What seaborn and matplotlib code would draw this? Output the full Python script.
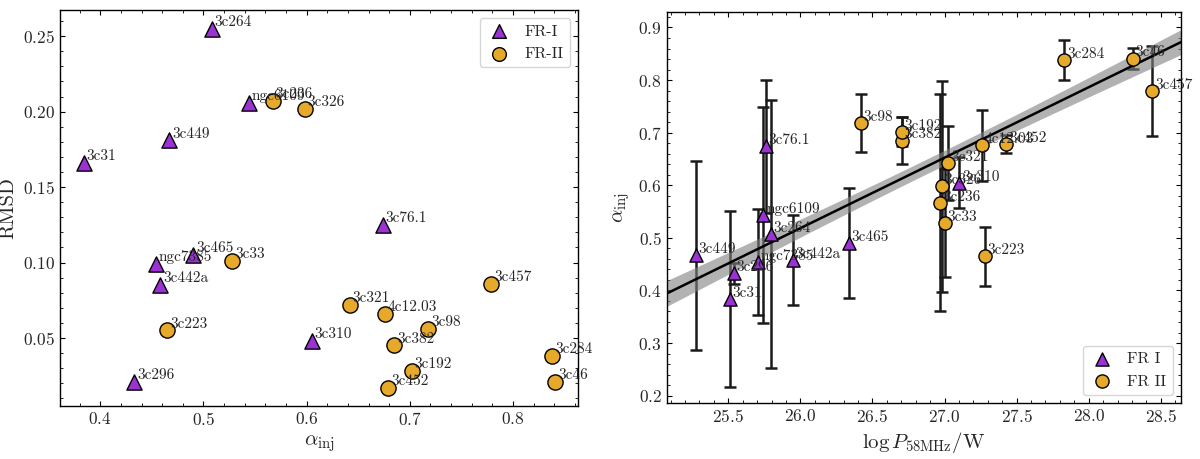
import numpy as np
import pandas as pd
import matplotlib
matplotlib.use("Agg")
import matplotlib.pyplot as plt
from matplotlib.ticker import AutoMinorLocator, MultipleLocator
import seaborn as sns

# dados
fr1_names = ["3c264", "ngc6109", "3c449", "3c31", "3c76.1", "3c465",
             "ngc7385", "3c442a", "3c296", "3c310"]
fr1_alpha = [0.508, 0.544, 0.467, 0.384, 0.674, 0.490, 0.454, 0.458, 0.433, 0.605]
fr1_rmsd = [0.255, 0.206, 0.181, 0.166, 0.125, 0.105, 0.099, 0.085, 0.021, 0.048]
fr1_logp = [25.796, 25.743, 25.274, 25.512, 25.759, 26.337, 25.704, 25.949, 25.540, 27.102]
fr1_err = [0.255, 0.205, 0.180, 0.167, 0.127, 0.105, 0.100, 0.085, 0.020, 0.048]

fr2_names = ["3c236", "3c326", "3c33", "3c223", "3c457", "3c321", "4c12.03",
             "3c98", "3c382", "3c192", "3c452", "3c284", "3c46"]
fr2_alpha = [0.567, 0.598, 0.528, 0.465, 0.779, 0.642, 0.676, 0.718, 0.685,
             0.702, 0.679, 0.838, 0.841]
fr2_rmsd = [0.207, 0.202, 0.101, 0.055, 0.086, 0.072, 0.066, 0.056, 0.045,
            0.028, 0.017, 0.038, 0.021]
fr2_logp = [26.970, 26.980, 27.003, 27.278, 28.440, 27.026, 27.257, 26.418,
            26.702, 26.702, 27.428, 27.830, 28.304]
fr2_err = [0.207, 0.200, 0.102, 0.056, 0.086, 0.070, 0.067, 0.055, 0.045,
           0.028, 0.017, 0.0375, 0.020]

# ajuste linear (pivot, valor no pivot, inclinacao, incertezas)
fit_x0 = 26.9
fit_y0 = 0.639
fit_slope = 0.134
fit_sig0 = 0.014
fit_sig_slope = 0.0110

purple = "#9b33d4"
orange = "#e6a92a"

df1 = pd.DataFrame({"name": fr1_names, "alpha": fr1_alpha, "rmsd": fr1_rmsd,
                    "logp": fr1_logp, "err": fr1_err})
df2 = pd.DataFrame({"name": fr2_names, "alpha": fr2_alpha, "rmsd": fr2_rmsd,
                    "logp": fr2_logp, "err": fr2_err})

sns.set_style("ticks")
plt.rcParams["font.family"] = "serif"
plt.rcParams["font.serif"] = ["cmr10"]
plt.rcParams["mathtext.fontset"] = "cm"
plt.rcParams["axes.formatter.use_mathtext"] = True
plt.rcParams["axes.unicode_minus"] = False
plt.rcParams["xtick.direction"] = "in"
plt.rcParams["ytick.direction"] = "in"
plt.rcParams["xtick.top"] = True
plt.rcParams["ytick.right"] = True
plt.rcParams["xtick.major.size"] = 3.5
plt.rcParams["ytick.major.size"] = 3.5
plt.rcParams["xtick.minor.size"] = 2
plt.rcParams["ytick.minor.size"] = 2
plt.rcParams["axes.linewidth"] = 1.0
plt.rcParams["axes.edgecolor"] = "black"

fig = plt.figure(figsize=(12, 4.59), dpi=100)
ax1 = fig.add_axes([0.050, 0.1155, 0.4317, 0.8625])
ax2 = fig.add_axes([0.5556, 0.122, 0.4284, 0.8525])

# --- painel esquerdo: RMSD vs alpha_inj
sns.scatterplot(data=df1, x="alpha", y="rmsd", marker="^", s=120, color=purple,
                edgecolor="black", linewidth=1, label="FR-I", ax=ax1, zorder=3)
sns.scatterplot(data=df2, x="alpha", y="rmsd", marker="o", s=120, color=orange,
                edgecolor="black", linewidth=1, label="FR-II", ax=ax1, zorder=3)
for d in (df1, df2):
    for _, r in d.iterrows():
        ax1.annotate(r["name"], (r["alpha"], r["rmsd"]), xytext=(2, 2),
                     textcoords="offset points", fontsize=11, va="baseline")

ax1.set_xlim(0.361, 0.863)
ax1.set_ylim(0.0049, 0.2673)
ax1.xaxis.set_major_locator(MultipleLocator(0.1))
ax1.yaxis.set_major_locator(MultipleLocator(0.05))
ax1.xaxis.set_minor_locator(AutoMinorLocator(5))
ax1.yaxis.set_minor_locator(AutoMinorLocator(5))
ax1.set_xlabel(r"$\alpha_{\rm inj}$", fontsize=15)
ax1.set_ylabel("RMSD", fontsize=15)
ax1.tick_params(labelsize=12.5)
ax1.legend(loc="upper right", fontsize=11.5, markerscale=0.9, handlelength=1.6)

# --- painel direito: alpha_inj vs log P
ax2.errorbar(df1["logp"], df1["alpha"], yerr=df1["err"], fmt="none", ecolor="#1a1a1a",
             elinewidth=1.8, capsize=4.5, capthick=1.8, zorder=1)
ax2.errorbar(df2["logp"], df2["alpha"], yerr=df2["err"], fmt="none", ecolor="#1a1a1a",
             elinewidth=1.8, capsize=4.5, capthick=1.8, zorder=1)

xx = np.linspace(25.0, 28.7, 200)
yy = fit_y0 + fit_slope * (xx - fit_x0)
band = np.sqrt(fit_sig0 ** 2 + (fit_sig_slope * (xx - fit_x0)) ** 2)
ax2.fill_between(xx, yy - band, yy + band, color="gray", alpha=0.6, lw=0, zorder=2)
sns.lineplot(x=xx, y=yy, color="black", lw=1.8, ax=ax2, zorder=2.5)

sns.scatterplot(data=df1, x="logp", y="alpha", marker="^", s=90, color=purple,
                edgecolor="black", linewidth=1, label="FR I", ax=ax2, zorder=3)
sns.scatterplot(data=df2, x="logp", y="alpha", marker="o", s=90, color=orange,
                edgecolor="black", linewidth=1, label="FR II", ax=ax2, zorder=3)
for d in (df1, df2):
    for _, r in d.iterrows():
        ax2.annotate(r["name"], (r["logp"], r["alpha"]), xytext=(2, 1.5),
                     textcoords="offset points", fontsize=11, va="baseline", zorder=4)

ax2.set_xlim(25.073, 28.639)
ax2.set_ylim(0.186, 0.930)
ax2.xaxis.set_major_locator(MultipleLocator(0.5))
ax2.yaxis.set_major_locator(MultipleLocator(0.1))
ax2.xaxis.set_minor_locator(AutoMinorLocator(5))
ax2.yaxis.set_minor_locator(AutoMinorLocator(5))
ax2.set_xlabel(r"$\log P_{\rm 58MHz}/{\rm W}$", fontsize=15)
ax2.set_ylabel(r"$\alpha_{\rm inj}$", fontsize=15)
ax2.tick_params(labelsize=12.5)
ax2.legend(loc="lower right", fontsize=11.5, handlelength=1.6)

for ax in (ax1, ax2):
    ax.tick_params(which="both", top=True, right=True, direction="in", color="black")

fig.savefig("out.png", dpi=100)
